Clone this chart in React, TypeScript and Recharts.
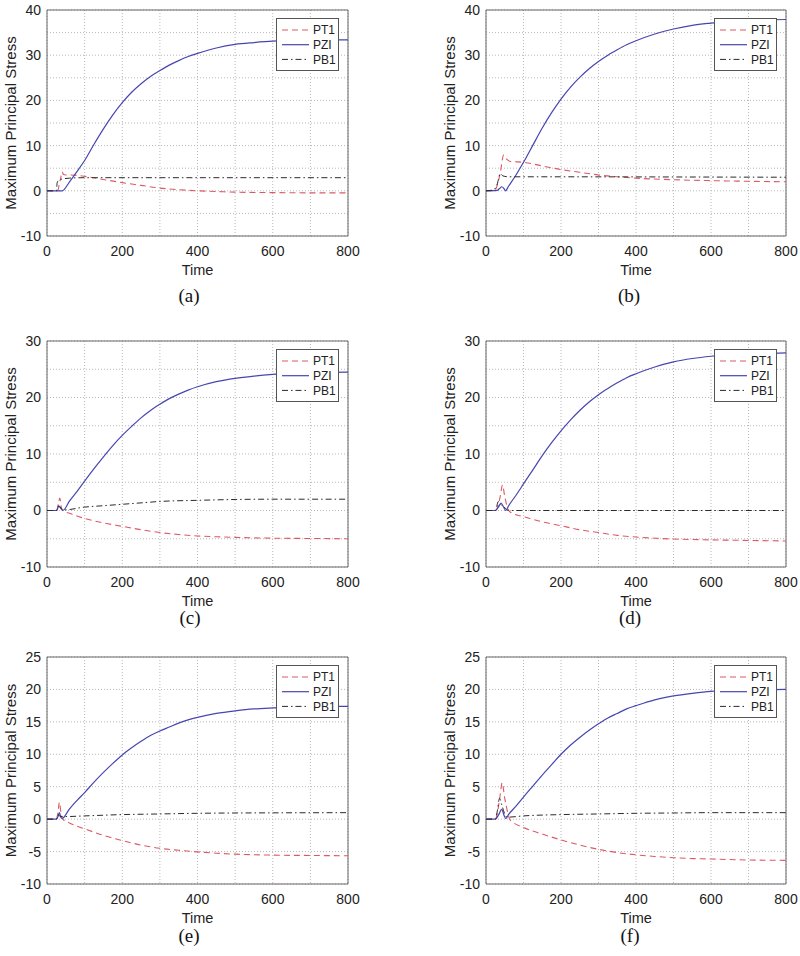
import React from "react";
import {
  LineChart,
  Line,
  XAxis,
  YAxis,
  CartesianGrid,
  ReferenceArea,
  Legend,
  Label,
} from "recharts";

type Pt = [number, number];

// time ticks (grid every 100, labels every 200)
const timeTicks = [0, 100, 200, 300, 400, 500, 600, 700, 800];
const ticks40 = [-10, -5, 0, 5, 10, 15, 20, 25, 30, 35, 40];
const ticks30 = [-10, -5, 0, 5, 10, 15, 20, 25, 30];
const ticks25 = [-10, -5, 0, 5, 10, 15, 20, 25];

const seriesNames = ["PT1", "PZI", "PB1"];
const panelLabels = ["(a)", "(b)", "(c)", "(d)", "(e)", "(f)"];

// (a)
const aPT1: Pt[] = [[0, 0], [25, 0], [30, 0.3], [33, 1.8], [36, 2.6], [40, 4.2], [44, 3.6], [50, 3.5], [60, 3.5], [80, 3.4], [100, 3.2], [150, 2.5], [200, 1.8], [250, 1.2], [300, 0.6], [350, 0.25], [400, 0], [450, -0.15], [500, -0.3], [600, -0.4], [700, -0.45], [800, -0.45]];
const aPZI: Pt[] = [[0, 0], [40, 0], [60, 2], [80, 4.3], [100, 6.7], [125, 10.3], [150, 13.7], [175, 16.8], [200, 19.5], [225, 21.8], [250, 23.7], [275, 25.3], [300, 26.6], [325, 27.8], [350, 28.8], [375, 29.7], [400, 30.4], [450, 31.6], [500, 32.4], [550, 32.8], [600, 33.1], [700, 33.3], [800, 33.4]];
const aPB1: Pt[] = [[0, 0], [25, 0], [27, 1.8], [32, 2.4], [40, 2.6], [60, 2.8], [100, 2.9], [800, 2.9]];

// (b)
const bPT1: Pt[] = [[0, 0], [22, 0], [30, 1.2], [38, 4], [47, 7.9], [55, 7], [65, 6.5], [100, 6.3], [150, 5.5], [200, 4.7], [250, 4.1], [300, 3.5], [350, 3.1], [400, 2.8], [500, 2.45], [600, 2.25], [700, 2.1], [800, 2.0]];
const bPZI: Pt[] = [[0, 0], [30, 0.1], [36, 0.5], [42, 0.9], [47, 0.6], [52, 0], [60, 1], [80, 3.5], [100, 6.3], [125, 10.1], [150, 13.9], [175, 17.3], [200, 20.3], [225, 22.9], [250, 25.1], [275, 27.0], [300, 28.6], [325, 30.0], [350, 31.2], [375, 32.3], [400, 33.2], [450, 34.7], [500, 35.8], [550, 36.6], [600, 37.1], [650, 37.5], [700, 37.7], [800, 37.9]];
const bPB1: Pt[] = [[0, 0], [20, 0.2], [30, 1.5], [38, 3.8], [45, 3.3], [60, 3.1], [100, 3.1], [800, 3.0]];

// (c)
const cPT1: Pt[] = [[0, 0], [26, 0], [30, 1.2], [34, 2.2], [38, 0.6], [42, 0], [60, -0.5], [100, -1.4], [150, -2.2], [200, -2.8], [250, -3.4], [300, -3.9], [350, -4.25], [400, -4.5], [450, -4.65], [500, -4.75], [600, -4.9], [700, -4.95], [800, -5.0]];
const cPZI: Pt[] = [[0, 0], [25, 0], [32, 0.8], [38, 0.3], [42, 0], [60, 1.7], [80, 3.4], [100, 5.2], [125, 7.4], [150, 9.5], [175, 11.5], [200, 13.3], [225, 14.9], [250, 16.4], [275, 17.7], [300, 18.8], [325, 19.8], [350, 20.6], [375, 21.3], [400, 21.9], [450, 22.8], [500, 23.4], [550, 23.8], [600, 24.1], [700, 24.4], [800, 24.5]];
const cPB1: Pt[] = [[0, 0], [25, 0], [30, 0.8], [38, 0.3], [45, 0.1], [100, 0.6], [150, 0.85], [200, 1.1], [250, 1.35], [300, 1.6], [400, 1.8], [500, 1.95], [600, 2.0], [800, 2.0]];

// (d)
const dPT1: Pt[] = [[0, 0], [25, 0], [32, 0.8], [38, 2.5], [44, 4.5], [50, 2.5], [58, 0.3], [65, -0.3], [100, -1.1], [150, -2.0], [200, -2.7], [250, -3.4], [300, -3.9], [350, -4.4], [400, -4.7], [450, -4.9], [500, -5.05], [600, -5.2], [700, -5.3], [800, -5.4]];
const dPZI: Pt[] = [[0, 0], [25, 0], [33, 0.6], [40, 1.3], [47, 0.6], [53, 0], [60, 0.8], [80, 2.7], [100, 4.7], [125, 7.2], [150, 9.7], [175, 12.0], [200, 14.1], [225, 16.0], [250, 17.7], [275, 19.2], [300, 20.5], [325, 21.6], [350, 22.6], [375, 23.5], [400, 24.2], [450, 25.4], [500, 26.3], [550, 26.9], [600, 27.3], [700, 27.7], [800, 27.9]];
const dPB1: Pt[] = [[0, 0], [25, 0], [33, 1.6], [40, 1.0], [50, 0.5], [60, 0], [800, 0]];

// (e)
const ePT1: Pt[] = [[0, 0], [25, 0], [29, 1.0], [33, 2.6], [37, 1.0], [42, 0], [60, -0.6], [100, -1.5], [150, -2.5], [200, -3.3], [250, -4.0], [300, -4.5], [350, -4.8], [400, -5.05], [450, -5.25], [500, -5.4], [600, -5.55], [700, -5.6], [800, -5.65]];
const ePZI: Pt[] = [[0, 0], [25, 0], [30, 0.5], [33, 1.0], [37, 0.3], [40, 0.1], [60, 1.6], [80, 2.9], [100, 4.1], [125, 5.7], [150, 7.2], [175, 8.6], [200, 9.9], [225, 11.0], [250, 12.0], [275, 12.9], [300, 13.6], [325, 14.2], [350, 14.8], [375, 15.3], [400, 15.7], [450, 16.3], [500, 16.7], [550, 17.0], [600, 17.15], [700, 17.3], [800, 17.4]];
const ePB1: Pt[] = [[0, 0], [25, 0], [30, 0.7], [35, 0.4], [50, 0.4], [100, 0.5], [200, 0.7], [300, 0.8], [400, 0.9], [500, 0.95], [600, 0.97], [800, 1.0]];

// (f)
const fPT1: Pt[] = [[0, 0], [25, 0], [32, 1.5], [38, 3.8], [43, 5.6], [50, 3.2], [58, 1.0], [63, 0], [70, -0.4], [100, -1.3], [150, -2.3], [200, -3.2], [250, -4.0], [300, -4.65], [350, -5.15], [400, -5.5], [450, -5.75], [500, -5.95], [600, -6.15], [700, -6.3], [800, -6.35]];
const fPZI: Pt[] = [[0, 0], [25, 0], [33, 0.6], [42, 1.5], [48, 0.6], [53, 0.1], [60, 0.7], [80, 2.0], [100, 3.4], [125, 5.1], [150, 6.8], [175, 8.4], [200, 10.0], [225, 11.4], [250, 12.6], [275, 13.7], [300, 14.7], [325, 15.6], [350, 16.3], [375, 17.0], [400, 17.5], [450, 18.4], [500, 19.0], [550, 19.4], [600, 19.7], [700, 19.9], [800, 20.0]];
const fPB1: Pt[] = [[0, 0], [25, 0], [30, 1.2], [36, 3.2], [42, 2.2], [50, 0.8], [56, 0.3], [100, 0.5], [200, 0.7], [300, 0.8], [400, 0.9], [500, 0.95], [600, 1.0], [800, 1.0]];

const styles = [
  { color: "#dc5a64", dash: "6 4", width: 1.1 },
  { color: "#4646b0", dash: undefined, width: 1.2 },
  { color: "#2a2a2a", dash: "6 3 1.5 3", width: 1 },
];

const SANS = "'Liberation Sans', Arial, sans-serif";
const SERIF = "'Liberation Serif', 'Times New Roman', serif";

const toRows = (pts: Pt[]) => pts.map(([t, v]) => ({ t, v }));

function LegendBox() {
  return (
    <div
      style={{
        width: 63,
        height: 53,
        boxSizing: "border-box",
        border: "1px solid #555",
        background: "#fff",
      }}
    >
      <svg width={61} height={51}>
        {seriesNames.map((name, i) => {
          const y = 11 + i * 14.7;
          const s = styles[i];
          return (
            <g key={name}>
              <line x1={5} x2={32} y1={y} y2={y} stroke={s.color} strokeWidth={s.width} strokeDasharray={s.dash} />
              <text x={36} y={y + 4.3} fontSize={12} fontFamily={SANS} fill="#222">
                {name}
              </text>
            </g>
          );
        })}
      </svg>
    </div>
  );
}

function YLabel(props: any) {
  const { x, y, width, height } = props.viewBox;
  const cx = x + width - 31;
  const cy = y + height / 2;
  return (
    <text
      transform={`translate(${cx},${cy}) rotate(-90)`}
      textAnchor="middle"
      fontSize={15}
      fontFamily={SANS}
      fill="#222"
    >
      Maximum Principal Stress
    </text>
  );
}

function XLabel(props: any) {
  const { x, y, width } = props.viewBox;
  return (
    <text x={x + width / 2} y={y + 39} textAnchor="middle" fontSize={14.5} fontFamily={SANS} fill="#222">
      Time
    </text>
  );
}

interface PanelProps {
  left: number;
  top: number;
  plotLeft: number;
  plotRight: number;
  plotHeight: number;
  yTicks: number[];
  labelStep: number;
  series: Pt[][];
}

function Panel({ left, top, plotLeft, plotRight, plotHeight, yTicks, labelStep, series }: PanelProps) {
  const W = 400;
  const H = 300;
  const yMin = yTicks[0];
  const yMax = yTicks[yTicks.length - 1];
  return (
    <div style={{ position: "absolute", left, top, width: W, height: H }}>
      <LineChart
        width={W}
        height={H}
        margin={{ top: 10, right: W - plotRight, left: plotLeft - 40, bottom: H - 10 - plotHeight - 50 }}
      >
        <CartesianGrid stroke="#b8b8b8" strokeDasharray="1 2" />
        <XAxis
          dataKey="t"
          type="number"
          domain={[0, 800]}
          ticks={timeTicks}
          interval={0}
          allowDataOverflow
          height={50}
          axisLine={false}
          tickLine={false}
          tickSize={0}
          tickMargin={10}
          tick={{ fontSize: 14, fontFamily: SANS, fill: "#222" }}
          tickFormatter={(v: number) => (v % 200 === 0 ? String(v) : "")}
        >
          <Label content={<XLabel />} />
        </XAxis>
        <YAxis
          type="number"
          domain={[yMin, yMax]}
          ticks={yTicks}
          interval={0}
          allowDataOverflow
          width={40}
          axisLine={false}
          tickLine={false}
          tickSize={0}
          tickMargin={6}
          tick={{ fontSize: 14, fontFamily: SANS, fill: "#222" }}
          tickFormatter={(v: number) => (v % labelStep === 0 ? String(v) : "")}
        >
          <Label content={<YLabel />} />
        </YAxis>
        <ReferenceArea x1={0} x2={800} y1={yMin} y2={yMax} fill="none" stroke="#666" strokeWidth={1} />
        {series.map((pts, i) => (
          <Line
            key={seriesNames[i]}
            data={toRows(pts)}
            dataKey="v"
            name={seriesNames[i]}
            type="monotone"
            stroke={styles[i].color}
            strokeWidth={styles[i].width}
            strokeDasharray={styles[i].dash}
            dot={false}
            activeDot={false}
            isAnimationActive={false}
          />
        ))}
        <Legend
          layout="vertical"
          align="center"
          verticalAlign="middle"
          content={() => <LegendBox />}
          wrapperStyle={{ position: "absolute", left: plotRight - 72, top: 18, width: 63, height: 53, bottom: "auto", right: "auto" }}
        />
      </LineChart>
    </div>
  );
}

const captionPos = [
  [189, 296],
  [629, 296],
  [190, 618],
  [630, 618],
  [189, 936],
  [630, 936],
];

export default function App() {
  const col = [
    { left: 0, plotLeft: 47, plotRight: 348 },
    { left: 400, plotLeft: 86, plotRight: 386 },
  ];
  const rows = [
    { top: 0, plotHeight: 226, yTicks: ticks40, step: 10 },
    { top: 331, plotHeight: 226, yTicks: ticks30, step: 10 },
    { top: 647, plotHeight: 227, yTicks: ticks25, step: 5 },
  ];
  const data = [
    [aPT1, aPZI, aPB1],
    [bPT1, bPZI, bPB1],
    [cPT1, cPZI, cPB1],
    [dPT1, dPZI, dPB1],
    [ePT1, ePZI, ePB1],
    [fPT1, fPZI, fPB1],
  ];
  return (
    <div style={{ position: "absolute", left: 0, top: 0, width: 800, height: 956, background: "#fff" }}>
      {data.map((series, k) => {
        const r = rows[Math.floor(k / 2)];
        const c = col[k % 2];
        return (
          <Panel
            key={k}
            left={c.left}
            top={r.top}
            plotLeft={c.plotLeft}
            plotRight={c.plotRight}
            plotHeight={r.plotHeight}
            yTicks={r.yTicks}
            labelStep={r.step}
            series={series}
          />
        );
      })}
      {panelLabels.map((lab, k) => (
        <div
          key={lab}
          style={{
            position: "absolute",
            left: captionPos[k][0] - 30,
            top: captionPos[k][1] - 8,
            width: 60,
            height: 16,
            lineHeight: "16px",
            textAlign: "center",
            fontFamily: SERIF,
            fontSize: 19,
            color: "#111",
          }}
        >
          {lab}
        </div>
      ))}
    </div>
  );
}
